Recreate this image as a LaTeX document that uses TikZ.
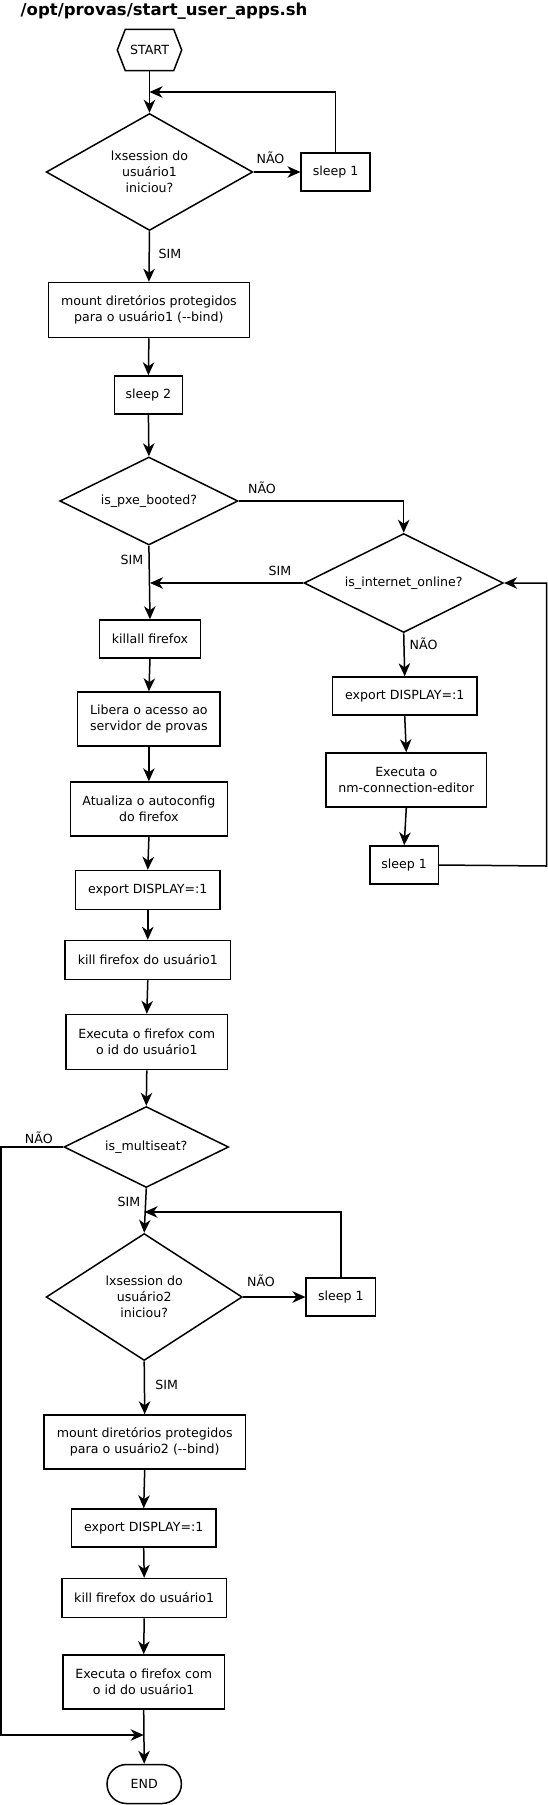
\documentclass[tikz,border=0pt]{standalone}
\usepackage{fontspec}
\setmainfont{DejaVu Sans}
\usetikzlibrary{shapes.geometric,shapes.misc,arrows.meta}
\begin{document}
\begin{tikzpicture}[x=1pt,y=-1pt,
  every node/.style={font=\fontsize{12.6}{16}\selectfont, inner sep=0pt},
  box/.style={draw, line width=1.5pt, rectangle, align=center},
  dec/.style={draw, line width=1.5pt, diamond, align=center},
  lbl/.style={font=\fontsize{12.6}{16}\selectfont},
  conn/.style={line width=1.5pt, -{Stealth[length=13pt,width=11.5pt,inset=4pt]}},
  plain/.style={line width=1.5pt, line join=miter},
]
\useasboundingbox (0,0) rectangle (548,1805);

% title
\node[anchor=base west, font=\bfseries\fontsize{16.5}{19}\selectfont] (title) at (20.5,15.5) {/opt/provas/start\_user\_apps.sh};

% start hexagon
\node[minimum width=64pt, minimum height=41pt] (start) at (149.5,50) {START};
\draw[plain] (start.west) -- ([xshift=8pt]start.north west) -- ([xshift=-8pt]start.north east) -- (start.east) -- ([xshift=-8pt]start.south east) -- ([xshift=8pt]start.south west) -- cycle;

% first loop
\node[dec, minimum width=206.6pt, minimum height=117pt, aspect=1.77] (d1) at (149.5,172) {lxsession do\\usuário1\\iniciou?};
\node[box, minimum width=69pt, minimum height=38pt] (s1) at (335.7,172) {sleep 1};
\coordinate (j1) at (149.5,92);
\node[lbl] (l1) at (270.5,158) {NÃO};

\node[box, minimum width=201.3pt, minimum height=55pt] (m1) at (148.9,310) {mount diretórios protegidos\\para o usuário1 (-{}-bind)};
\node[lbl] (l2) at (170,254) {SIM};
\node[box, minimum width=68pt, minimum height=38pt] (s2) at (148.4,395) {sleep 2};

\node[dec, minimum width=178.2pt, minimum height=88pt, aspect=2.02] (pxe) at (148.9,501) {is\_pxe\_booted?};
\node[lbl] (l3) at (262,488) {NÃO};
\node[lbl] (l4) at (132,560) {SIM};

\node[dec, minimum width=199.3pt, minimum height=99pt, aspect=2.01] (inet) at (403.7,583) {is\_internet\_online?};
\coordinate (j2) at (150,583);
\node[lbl] (l5) at (280,571) {SIM};
\node[lbl] (l6) at (423.6,644) {NÃO};

% right column
\node[box, minimum width=144.7pt, minimum height=38pt] (exr) at (404.7,696) {export DISPLAY=:1};
\node[box, minimum width=160.4pt, minimum height=54pt] (nm) at (406.3,780) {Executa o\\nm-connection-editor};
\node[box, minimum width=68.2pt, minimum height=38pt] (sr) at (404.2,865) {sleep 1};
\coordinate (jr) at (546.7,866);

% left column
\node[box, minimum width=100.7pt, minimum height=38pt] (kill) at (150,639) {killall firefox};
\node[box, minimum width=142.6pt, minimum height=54pt] (lib) at (148.9,719) {Libera o acesso ao\\servidor de provas};
\node[box, minimum width=157.3pt, minimum height=54pt] (atu) at (148.9,809) {Atualiza o autoconfig\\do firefox};
\node[box, minimum width=144.7pt, minimum height=39pt] (ex1) at (147.8,890) {export DISPLAY=:1};
\node[box, minimum width=165.7pt, minimum height=39pt] (kf1) at (147.8,960) {kill firefox do usuário1};
\node[box, minimum width=161.5pt, minimum height=55pt] (ef1) at (146.8,1042) {Executa o firefox com\\o id do usuário1};

\node[dec, minimum width=164.6pt, minimum height=81pt, aspect=2.03] (ms) at (146.3,1147) {is\_multiseat?};
\node[lbl] (l7) at (38.8,1138) {NÃO};
\node[lbl] (l8) at (129,1202) {SIM};
\coordinate (j3) at (144.5,1212);
\coordinate (jm) at (1.2,1147);

\node[dec, minimum width=196.1pt, minimum height=127pt, aspect=1.54] (d2) at (144.2,1297) {lxsession do\\usuário2\\iniciou?};
\node[box, minimum width=69.2pt, minimum height=38pt] (s3) at (340.8,1297) {sleep 1};
\node[lbl] (l9) at (261,1281) {NÃO};
\node[lbl] (l10) at (166.7,1385) {SIM};

\node[box, minimum width=201.3pt, minimum height=54pt] (m2) at (144.7,1442) {mount diretórios protegidos\\para o usuário2 (-{}-bind)};
\node[box, minimum width=144.7pt, minimum height=38pt] (ex2) at (143.7,1528) {export DISPLAY=:1};
\node[box, minimum width=164.6pt, minimum height=39pt] (kf2) at (144.2,1598) {kill firefox do usuário1};
\node[box, minimum width=161.5pt, minimum height=54pt] (ef2) at (143.7,1682) {Executa o firefox com\\o id do usuário1};
\coordinate (j4) at (143.7,1735);
\node[draw, line width=1.5pt, rounded rectangle, minimum width=74.4pt, minimum height=39pt] (stop) at (144.2,1784) {END};

% connectors
\draw[conn] (start.south) -- (d1.north);
\draw[conn] (d1.east) -- (s1.west);
\draw[conn] (s1.north) |- (j1);
\draw[conn] (d1.south) -- (m1.north);
\draw[conn] (m1.south) -- (s2.north);
\draw[conn] (s2.south) -- (pxe.north);
\draw[conn] (pxe.east) -| (inet.north);
\draw[conn] (pxe.south) -- (kill.north);
\draw[conn] (inet.west) -- (j2);
\draw[conn] (inet.south) -- (exr.north);
\draw[conn] (exr.south) -- (nm.north);
\draw[conn] (nm.south) -- (sr.north);
\draw[conn] (sr.east) -- (jr) |- (inet.east);
\draw[conn] (kill.south) -- (lib.north);
\draw[conn] (lib.south) -- (atu.north);
\draw[conn] (atu.south) -- (ex1.north);
\draw[conn] (ex1.south) -- (kf1.north);
\draw[conn] (kf1.south) -- (ef1.north);
\draw[conn] (ef1.south) -- (ms.north);
\draw[conn] (ms.south) -- (d2.north);
\draw[conn] (d2.east) -- (s3.west);
\draw[conn] (s3.north) |- (j3);
\draw[conn] (d2.south) -- (m2.north);
\draw[conn] (m2.south) -- (ex2.north);
\draw[conn] (ex2.south) -- (kf2.north);
\draw[conn] (kf2.south) -- (ef2.north);
\draw[conn] (ef2.south) -- (stop.north);
\draw[conn] (ms.west) -- (jm) |- (j4);
\end{tikzpicture}
\end{document}
